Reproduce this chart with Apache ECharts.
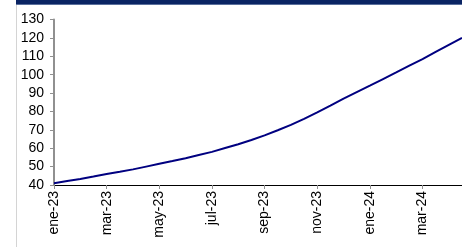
<!DOCTYPE html>
<html>
<head>
<meta charset="utf-8">
<script src="https://cdn.jsdelivr.net/npm/echarts@6/dist/echarts.min.js"></script>
<style>
  html, body { margin: 0; padding: 0; background: #ffffff; }
  #chart { width: 462px; height: 247px; }
</style>
</head>
<body>
<div id="chart"></div>
<script>
// half-month points, labels shown every 2 months
const categories = [
  'ene-23', '15-ene-23', 'feb-23', '15-feb-23', 'mar-23', '15-mar-23', 'abr-23', '15-abr-23',
  'may-23', '15-may-23', 'jun-23', '15-jun-23', 'jul-23', '15-jul-23', 'ago-23', '15-ago-23',
  'sep-23', '15-sep-23', 'oct-23', '15-oct-23', 'nov-23', '15-nov-23', 'dic-23', '15-dic-23',
  'ene-24', '15-ene-24', 'feb-24', '15-feb-24', 'mar-24', '15-mar-24', 'abr-24', '15-abr-24'
]
const values = [
  41.0, 42.2, 43.3, 44.6, 46.0, 47.2, 48.5, 50.0,
  51.5, 53.0, 54.6, 56.3, 58.0, 60.1, 62.2, 64.5,
  67.0, 69.8, 72.7, 76.0, 79.5, 83.2, 87.0, 90.5,
  94.0, 97.6, 101.2, 104.9, 108.5, 112.4, 116.2, 120.0
]
const yMin = 40
const yMax = 130
const yStep = 10

const chart = echarts.init(document.getElementById('chart'))

const font = 'Liberation Sans'

chart.setOption({
  animation: false,
  backgroundColor: '#ffffff',
  graphic: [
    { type: 'rect', shape: { x: 16, y: 0, width: 446, height: 4 }, style: { fill: '#0a2463' } },
    { type: 'rect', shape: { x: 16, y: 4, width: 446, height: 1 }, style: { fill: '#5a6f9c' } },
    { type: 'rect', shape: { x: 16, y: 5, width: 1, height: 242 }, style: { fill: '#d4d4d4' } }
  ],
  grid: { left: 54, right: 0, top: 19.5, bottom: 62 },
  xAxis: {
    type: 'category',
    data: categories,
    boundaryGap: false,
    axisLine: { lineStyle: { color: '#000000', width: 1 } },
    axisTick: { interval: 3, length: 4, lineStyle: { color: '#909090' } },
    axisLabel: {
      interval: 3,
      rotate: 90,
      color: '#000000',
      fontFamily: font,
      fontSize: 14,
      margin: 6
    },
    splitLine: { show: false }
  },
  yAxis: {
    type: 'value',
    min: yMin,
    max: yMax,
    interval: yStep,
    axisLine: { show: true, lineStyle: { color: '#909090', width: 2 } },
    axisTick: { show: true, length: 4, lineStyle: { color: '#909090' } },
    axisLabel: { color: '#000000', fontFamily: font, fontSize: 14, margin: 10 },
    splitLine: { show: false }
  },
  series: [{
    type: 'line',
    data: values,
    symbol: 'none',
    lineStyle: { color: '#000080', width: 2 }
  }]
})
</script>
</body>
</html>
